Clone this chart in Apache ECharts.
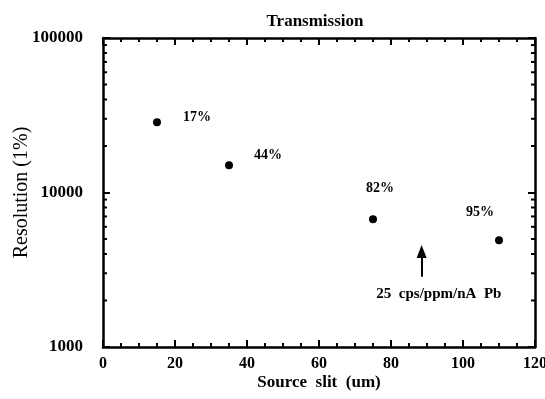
<!DOCTYPE html>
<html>
<head>
<meta charset="utf-8">
<script src="https://cdn.jsdelivr.net/npm/echarts@6/dist/echarts.min.js"></script>
<style>html,body{margin:0;padding:0;background:#fff}#c{width:545px;height:399px}</style>
</head>
<body>
<div id="c"></div>
<script>
var slitWidths = [15, 35, 75, 110];
var resolutions = [28500, 15000, 6700, 4900];
var transmissionLabels = ['17%', '44%', '82%', '95%'];
var labelOffsets = [[40, -5], [39, -10], [7, -31], [-19, -28]];
var yMinorTicks = [2000, 3000, 4000, 5000, 6000, 7000, 8000, 9000, 20000, 30000, 40000, 50000, 60000, 70000, 80000, 90000];
var arrowX = 88.5;
var arrowFrom = 2850;
var arrowTo = 4150;
var noteText = '25  cps/ppm/nA  Pb';
var notePos = [93.3, 2200];

var FONT = '"Liberation Serif", "Times New Roman", serif';
var chart = echarts.init(document.getElementById('c'), null, {renderer: 'canvas'});

var pointData = slitWidths.map(function (x, i) {
  return {
    value: [x, resolutions[i]],
    label: {show: true, position: 'inside', offset: labelOffsets[i], formatter: transmissionLabels[i]}
  };
});

function axisLine() { return {show: true, onZero: false, lineStyle: {color: '#000', width: 2.5}}; }
function tick() { return {show: true, inside: true, length: 7, lineStyle: {color: '#000', width: 2}}; }
var option = {
  animation: false,
  backgroundColor: '#fff',
  title: {
    text: 'Transmission', left: 310, top: 8, textAlign: 'center',
    textStyle: {fontFamily: FONT, fontWeight: 'bold', fontSize: 17, color: '#000'}
  },
  grid: {left: 103, right: 10, top: 38, bottom: 52, containLabel: false, outerBoundsMode: 'none'},
  xAxis: [{
    type: 'value', min: 0, max: 120, interval: 20, position: 'bottom',
    axisLine: axisLine(), axisTick: tick(),
    minorTick: {show: true, splitNumber: 4, length: 4, lineStyle: {color: '#000', width: 2}},
    splitLine: {show: false},
    axisLabel: {margin: 9, fontFamily: FONT, fontWeight: 'bold', fontSize: 16, color: '#000'},
    name: 'Source  slit  (um)', nameLocation: 'middle', nameGap: 27, nameMoveOverlap: false,
    nameTextStyle: {fontFamily: FONT, fontWeight: 'bold', fontSize: 17, color: '#000'}
  }, {
    type: 'value', min: 0, max: 120, interval: 20, position: 'top',
    axisLine: axisLine(), axisTick: tick(),
    minorTick: {show: true, splitNumber: 4, length: 4, lineStyle: {color: '#000', width: 2}},
    splitLine: {show: false},
    axisLabel: {show: false}
  }],
  yAxis: [{
    type: 'log', logBase: 10, min: 1000, max: 100000, position: 'left',
    axisLine: axisLine(), axisTick: tick(),
    splitLine: {show: false},
    axisLabel: {margin: 20, fontFamily: FONT, fontWeight: 'bold', fontSize: 17, color: '#000',
      formatter: function (v) { return String(Math.round(v)); }},
    name: 'Resolution (1%)', nameLocation: 'middle', nameGap: 71, nameMoveOverlap: false,
    nameTextStyle: {fontFamily: FONT, fontSize: 20, color: '#000'}
  }, {
    type: 'log', logBase: 10, min: 1000, max: 100000, position: 'right',
    axisLine: axisLine(), axisTick: tick(),
    splitLine: {show: false},
    axisLabel: {show: false}
  }],
  series: [{
    type: 'scatter', xAxisIndex: 0, yAxisIndex: 0,
    symbol: 'circle', symbolSize: 8,
    itemStyle: {color: '#000', opacity: 1},
    label: {fontFamily: FONT, fontWeight: 'bold', fontSize: 14, color: '#000'},
    data: pointData,
    markLine: {
      silent: true, symbol: ['none', 'triangle'], symbolSize: [10, 13],
      lineStyle: {color: '#000', width: 2, type: 'solid', opacity: 1},
      itemStyle: {color: '#000'},
      label: {show: false},
      data: [[{coord: [arrowX, arrowFrom]}, {coord: [arrowX, arrowTo]}]]
    },
    markPoint: {
      silent: true, symbol: 'circle', symbolSize: 0,
      label: {show: true, position: 'inside', formatter: noteText, fontFamily: FONT, fontWeight: 'bold', fontSize: 15, color: '#000'},
      data: [{coord: notePos}]
    }
  }, {
    type: 'custom', xAxisIndex: 0, yAxisIndex: 0, silent: true,
    data: yMinorTicks.map(function (v) { return [0, v]; }),
    renderItem: function (params, api) {
      var cs = params.coordSys;
      var p = api.coord([0, api.value(1)]);
      var y = p[1];
      var l = cs.x, r = cs.x + cs.width;
      return {
        type: 'group',
        children: [
          {type: 'line', shape: {x1: l, y1: y, x2: l + 4, y2: y}, style: {stroke: '#000', lineWidth: 2}},
          {type: 'line', shape: {x1: r - 4, y1: y, x2: r, y2: y}, style: {stroke: '#000', lineWidth: 2}}
        ]
      };
    }
  }]
};
chart.setOption(option);
</script>
</body>
</html>
